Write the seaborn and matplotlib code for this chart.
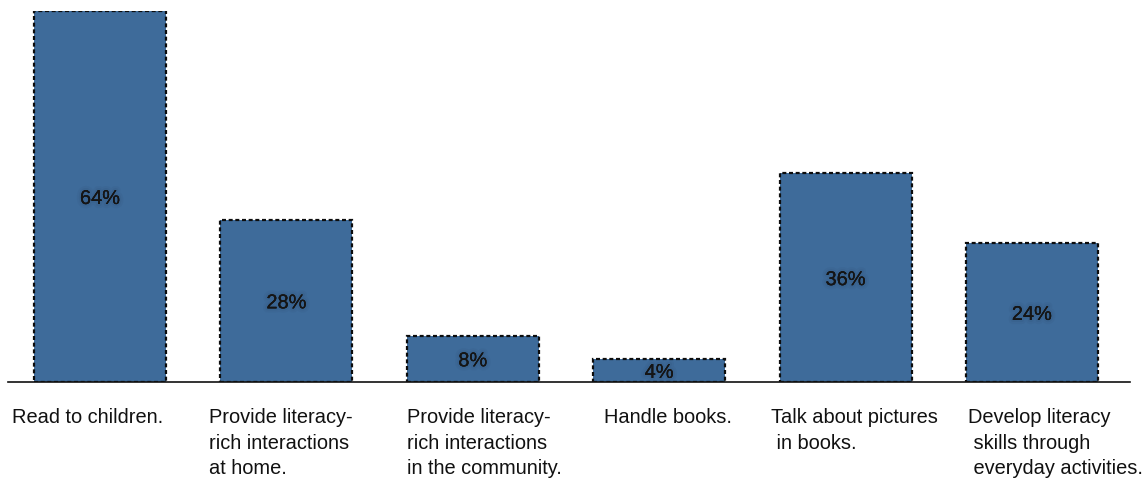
import matplotlib
matplotlib.use("Agg")
import matplotlib.pyplot as plt
import matplotlib.patheffects as pe
from matplotlib.transforms import ScaledTranslation
import seaborn as sns
import pandas as pd

categories = [
    "Read to children.",
    "Provide literacy-rich interactions at home.",
    "Provide literacy-rich interactions in the community.",
    "Handle books.",
    "Talk about pictures in books.",
    "Develop literacy skills through everyday activities.",
]
values = [64, 28, 8, 4, 36, 24]
tick_labels = [
    "Read to children.",
    "Provide literacy-\nrich interactions\nat home.",
    "Provide literacy-\nrich interactions\nin the community.",
    "Handle books.",
    "Talk about pictures\n in books.",
    "Develop literacy\n skills through\n everyday activities.",
]
# horizontal shift of each wrapped label's left edge, in pixels from the bar centre
label_shift_px = [-88, -77, -66, -55, -75, -64]

sns.set_theme(style="white")
plt.rcParams["font.family"] = ["Liberation Sans", "DejaVu Sans"]

bar_color = "#3E6B9A"
df = pd.DataFrame({"category": categories, "value": values})

fig = plt.figure(figsize=(11.46, 4.8), dpi=100)
W, H = 1146, 480
ax = fig.add_axes([8 / W, (H - 382) / H, (1130 - 8) / W, (382 - 11) / H])

sns.barplot(data=df, x="category", y="value", color=bar_color, saturation=1,
            width=0.708, ax=ax)

for patch in ax.patches:
    patch.set_edgecolor("#0d0d0d")
    patch.set_linewidth(1.6)
    patch.set_linestyle((0, (1.8, 1.2)))

ax.set_xlim(-0.494, 5.526)
ax.set_ylim(0, 64)
ax.set_xlabel("")
ax.set_ylabel("")
ax.set_yticks([])

for s in ["top", "left", "right"]:
    ax.spines[s].set_visible(False)
ax.spines["bottom"].set_color("#111111")
ax.spines["bottom"].set_linewidth(1.2)

ax.set_xticks(range(len(categories)))
ax.set_xticklabels(tick_labels, ha="left", va="top", fontsize=14.4,
                   color="#111111", linespacing=1.42)
ax.tick_params(axis="x", length=0, pad=19)
for lbl, dx in zip(ax.get_xticklabels(), label_shift_px):
    lbl.set_transform(lbl.get_transform() + ScaledTranslation(dx / 100, 0, fig.dpi_scale_trans))

# value labels centred inside each bar, with a faint dark halo
halo = [pe.withStroke(linewidth=6, foreground="#1d3552", alpha=0.06),
        pe.withStroke(linewidth=3, foreground="#1d3552", alpha=0.08),
        pe.Normal()]
for i, v in enumerate(values):
    ax.text(i, v / 2, f"{v}%", ha="center", va="center_baseline", fontsize=14.4,
            color="#151515", path_effects=halo)

fig.savefig("out.png", dpi=100)
